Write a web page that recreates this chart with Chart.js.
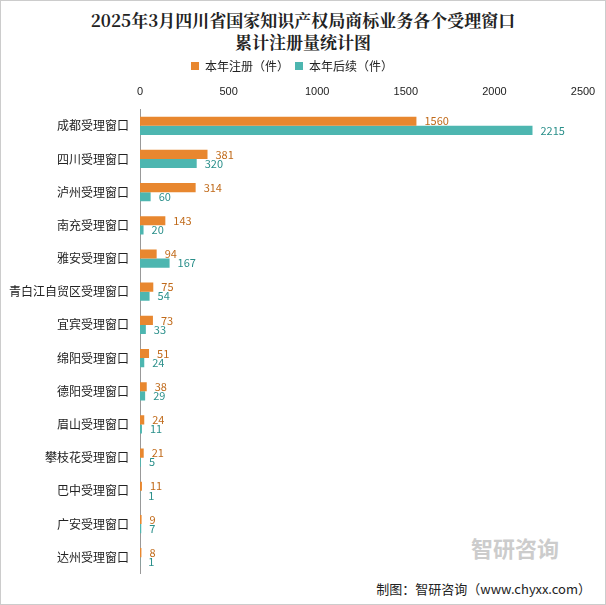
<!DOCTYPE html><html><head><meta charset="utf-8">
<script src="https://cdn.jsdelivr.net/npm/chart.js@4"></script>
<style>body{margin:0;background:#fff}#w{position:relative;width:604px;height:603px;border:1px solid #ccc}
#t{position:absolute;top:8px;left:0;width:604px;text-align:center;font:bold 17px "Noto Serif CJK SC","Noto Sans CJK SC",serif;line-height:22px;color:#222}
#f{position:absolute;right:14px;bottom:6px;font:13px "Noto Sans CJK SC";color:#222}
#wm{position:absolute;left:470px;top:530px;font:bold 22px "Noto Sans CJK SC";color:#ccc}
canvas{position:absolute;left:0;top:53px}</style></head><body>
<div id="w"><div id="t">2025年3月四川省国家知识产权局商标业务各个受理窗口<br>累计注册量统计图</div>
<div id="wm">智研咨询</div>
<div id="f">制图：智研咨询（www.chyxx.com）</div>
<canvas id="c" width="604" height="530"></canvas></div>
<script>
const categories=["成都受理窗口","四川受理窗口","泸州受理窗口","南充受理窗口","雅安受理窗口","青白江自贸区受理窗口","宜宾受理窗口","绵阳受理窗口","德阳受理窗口","眉山受理窗口","攀枝花受理窗口","巴中受理窗口","广安受理窗口","达州受理窗口"];
const reg=[1560,381,314,143,94,75,73,51,38,24,21,11,9,8];
const ren=[2215,320,60,20,167,54,33,24,29,11,5,1,7,1];
const colors=["#E8872F","#4DB6B0"];
const lbl={id:'lbl',afterDatasetsDraw(ch){const x=ch.ctx;x.font='11px "Noto Sans CJK SC"';x.textBaseline='middle';
ch.data.datasets.forEach((d,i)=>{ch.getDatasetMeta(i).data.forEach((b,j)=>{x.fillStyle=i?'#2a8f8a':'#c06a1a';x.fillText(d.data[j],b.x+8,b.y);});});}};
new Chart(document.getElementById('c'),{type:'bar',data:{labels:categories,datasets:[
{label:'本年注册（件）',data:reg,backgroundColor:colors[0],barPercentage:1,categoryPercentage:0.55},
{label:'本年后续（件）',data:ren,backgroundColor:colors[1],barPercentage:1,categoryPercentage:0.55}]},
options:{indexAxis:'y',responsive:false,animation:false,layout:{padding:{right:22,bottom:0}},
plugins:{legend:{labels:{boxWidth:8,boxHeight:8,padding:6,font:{size:12,family:'Noto Sans CJK SC'},color:'#222'}},tooltip:{enabled:false}},
scales:{x:{position:'top',min:0,max:2500,ticks:{stepSize:500,color:'#222',font:{size:11},callback:v=>v},grid:{display:false},border:{display:false}},
y:{afterFit:a=>{a.width=139},ticks:{color:'#222',font:{size:12,family:'Noto Sans CJK SC'}},grid:{display:false},border:{color:'#999'}}}},plugins:[lbl]});
</script></body></html>
